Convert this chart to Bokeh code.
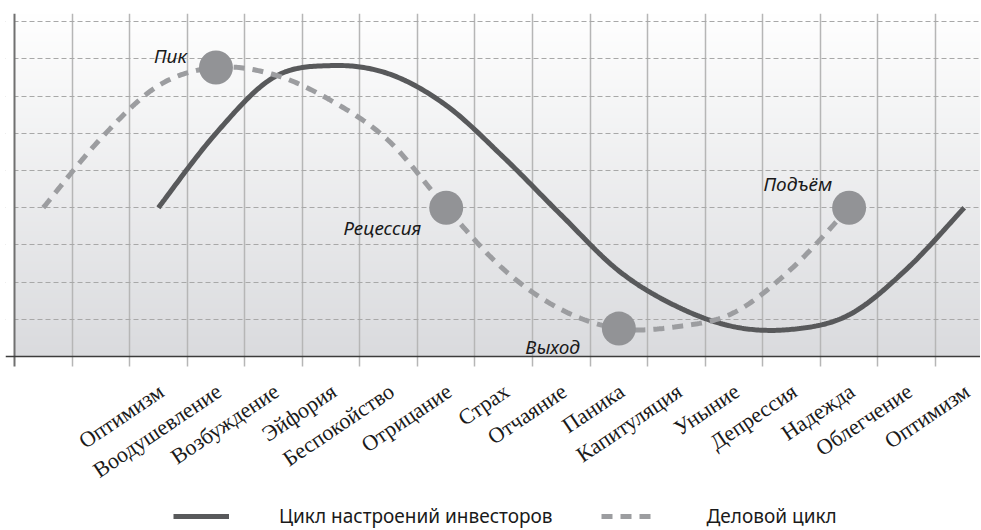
import numpy as np
from bokeh.plotting import figure
from bokeh.models import FixedTicker, Legend, LegendItem, Range1d, ColumnDataSource
from bokeh.core.properties import value
from bokeh.embed import file_html
from bokeh.resources import INLINE

# ---------------- data ----------------
categories = ["", "", "Оптимизм", "Воодушевление", "Возбуждение", "Эйфория",
              "Беспокойство", "Отрицание", "Страх", "Отчаяние", "Паника",
              "Капитуляция", "Уныние", "Депрессия", "Надежда", "Облегчение",
              "Оптимизм"]

investor_start = 2
investor_values = [4.0, 6.0, 7.5, 7.82, 7.6, 6.75, 5.35, 3.8, 2.3, 1.35,
                   0.8, 0.73, 1.12, 2.35, 4.0]

business_start = 0
business_values = [4.0, 5.86, 7.28, 7.77, 7.58, 6.88, 5.8, 4.0, 2.34, 1.26,
                   0.75, 0.8, 1.18, 2.36, 4.0]

marker_cats = [3, 7, 10, 14]
marker_labels = ["Пик", "Рецессия", "Выход", "Подъём"]
label_dx = [-29, -25, -39, -17]
label_dy = [-11, 20, 18, -24]

legend_labels = ["Цикл настроений инвесторов", "Деловой цикл"]

# ---------------- helpers ----------------
def smooth(xs, ys, n=30):
    P = np.column_stack([xs, ys]).astype(float)
    E = np.vstack([P[0], P, P[-1]])
    out = []
    for i in range(len(P) - 1):
        p0, p1, p2, p3 = E[i], E[i + 1], E[i + 2], E[i + 3]
        c1 = p1 + (p2 - p0) / 6.0
        c2 = p2 - (p3 - p1) / 6.0
        t = np.linspace(0, 1, n, endpoint=(i == len(P) - 2))[:, None]
        b = ((1 - t) ** 3) * p1 + 3 * ((1 - t) ** 2) * t * c1 + 3 * (1 - t) * t ** 2 * c2 + t ** 3 * p2
        out.append(b)
    B = np.vstack(out)
    return B[:, 0], B[:, 1]

n_cat = len(categories)
PX_X = 57.56            # px per category
PLOT_H = 343            # px of value area
Y_END = 9.22
PX_Y = PLOT_H / Y_END   # px per value unit
FRAME_W = 975
FRAME_H = 515
X_START = -9 / PX_X
X_END = X_START + FRAME_W / PX_X
Y_START = -(FRAME_H - PLOT_H) / PX_Y
TICK = 10 / PX_Y

p = figure(frame_width=FRAME_W, frame_height=FRAME_H,
           x_range=Range1d(X_START, X_END), y_range=Range1d(Y_START, Y_END),
           output_backend="svg", toolbar_location=None,
           min_border_left=5, min_border_right=0, min_border_top=13,
           min_border_bottom=0)
p.outline_line_color = None
p.background_fill_color = "white"
p.border_fill_color = "white"
p.xaxis.visible = False
p.yaxis.visible = False

# gradient background of the value area
H = 256
img = np.empty((H, 1), dtype=np.uint32)
view = img.view(dtype=np.uint8).reshape((H, 1, 4))
c_bot = np.array([218, 219, 222])
c_top = np.array([255, 255, 255])
for r in range(H):
    f = r / (H - 1)
    c = c_bot + (c_top - c_bot) * f
    view[r, 0, 0] = int(c[0]); view[r, 0, 1] = int(c[1]); view[r, 0, 2] = int(c[2]); view[r, 0, 3] = 255
p.image_rgba(image=[img], x=0, y=0, dw=X_END, dh=Y_END, level="image")

# grids
p.xgrid.ticker = FixedTicker(ticks=list(range(1, n_cat + 1)))
p.xgrid.grid_line_color = "#b6b6b6"
p.xgrid.grid_line_width = 1.5
p.ygrid.ticker = FixedTicker(ticks=list(range(1, 10)))
p.ygrid.grid_line_color = "#a8a8a8"
p.ygrid.grid_line_width = 1
p.ygrid.grid_line_dash = "5 3"

# white areas outside the value area (grid lines below remain as tick marks)
p.quad(left=[X_START, X_START], right=[X_END, 0], bottom=[Y_START, 0],
       top=[-TICK, Y_END], fill_color="white", line_color=None)
p.quad(left=X_START, right=0, bottom=-TICK, top=0, fill_color="white", line_color=None)

# axes lines
p.segment(x0=[0], y0=[-TICK], x1=[0], y1=[Y_END], line_color="#707070", line_width=2)
p.segment(x0=[X_START], y0=[0], x1=[X_END], y1=[0], line_color="#3c3c3c", line_width=1.5)

# category labels
lab_x = [i + 0.5 for i in range(n_cat) if categories[i]]
lab_t = [categories[i] for i in range(n_cat) if categories[i]]
p.text(x=lab_x, y=[0] * len(lab_x), text=lab_t, angle=np.deg2rad(34),
       x_offset=-4, y_offset=22, text_align="right", text_baseline="top",
       text_font=value("Liberation Serif"), text_font_size="22px",
       text_color="#1a1a1a")

# series
ix = [investor_start + i + 0.5 for i in range(len(investor_values))]
bx = [business_start + i + 0.5 for i in range(len(business_values))]
sx, sy = smooth(ix, investor_values)
dx, dy = smooth(bx, business_values)

inv = p.line(sx, sy, line_color="#58595b", line_width=5)
bus = p.line(dx, dy, line_color="#9c9da0", line_width=5, line_dash="11 8")

mx = [c + 0.5 for c in marker_cats]
my = [business_values[c - business_start] for c in marker_cats]
p.scatter(mx, my, size=34, fill_color="#929396", line_color=None)

src = ColumnDataSource(dict(x=mx, y=my, t=marker_labels, xo=label_dx, yo=label_dy))
p.text(x="x", y="y", text="t", x_offset="xo", y_offset="yo", source=src,
       text_align="right", text_baseline="alphabetic",
       text_font=value("Noto Sans"), text_font_style="italic",
       text_font_size="19px", text_color="#1a1a1a")

legend = Legend(items=[LegendItem(label=legend_labels[0], renderers=[inv]),
                       LegendItem(label=legend_labels[1], renderers=[bus])],
                orientation="horizontal", location=(168, -1),
                glyph_width=56, glyph_height=20, label_height=20,
                label_standoff=50, spacing=48,
                label_text_font="Noto Sans", label_text_font_size="19px",
                label_text_color="#1a1a1a",
                background_fill_alpha=0, border_line_color=None,
                padding=0, margin=0)
p.add_layout(legend)

open("out.html", "w").write(file_html(p, INLINE))
